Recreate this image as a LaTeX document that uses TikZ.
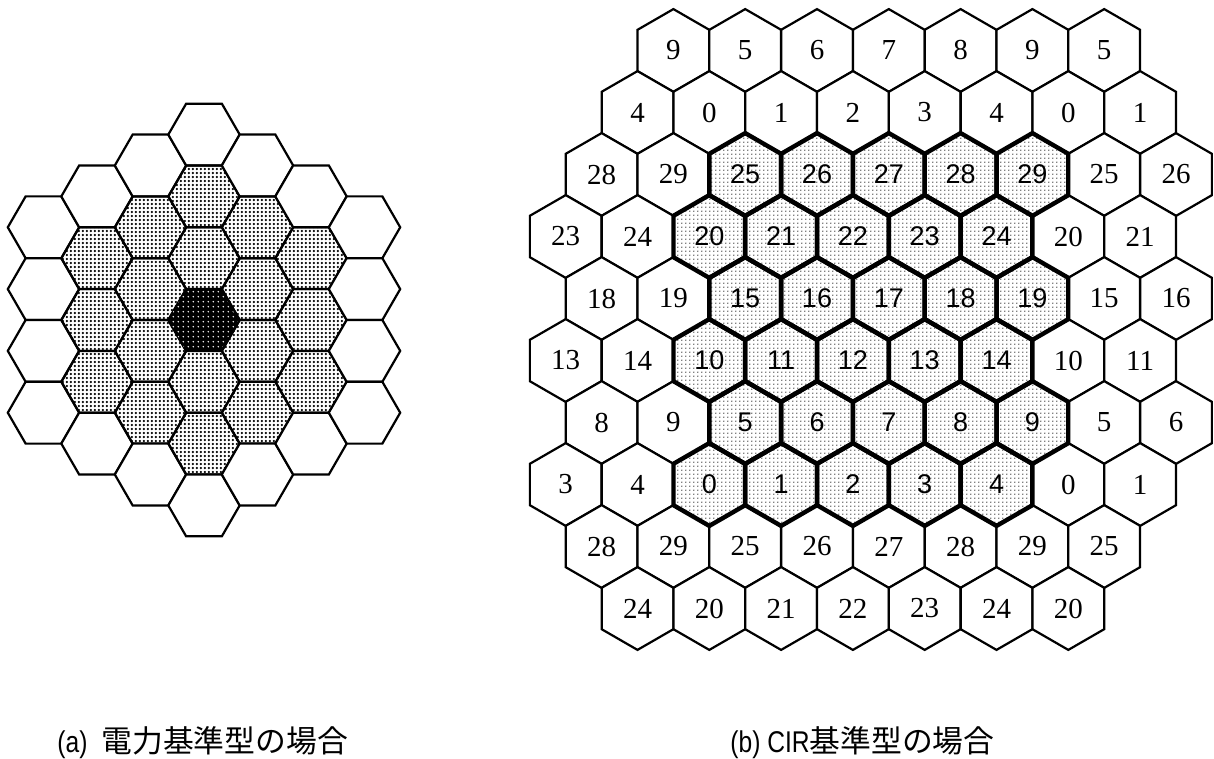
\documentclass[tikz,border=0pt]{standalone}
\usepackage{fontspec}
\setmainfont{Liberation Serif}
\newfontfamily\numsans{Liberation Sans}
\newfontfamily\capsans[FakeStretch=0.82]{Liberation Sans}
\newfontfamily\cjk{Noto Sans CJK JP}
\usetikzlibrary{shapes.geometric,patterns.meta}

\tikzdeclarepattern{
  name=dotsA,
  type=uncolored,
  bounding box={(0pt,0pt) and (2.2pt,2.2pt)},
  tile size={(2.2pt,2.2pt)},
  code={\fill (1.1pt,1.1pt) circle [radius=0.7pt];}
}
\tikzdeclarepattern{
  name=dotsB,
  type=uncolored,
  bounding box={(0pt,0pt) and (1.9pt,1.9pt)},
  tile size={(1.9pt,1.9pt)},
  code={\fill (0.95pt,0.95pt) circle [radius=0.32pt];}
}
\tikzdeclarepattern{
  name=dotsC,
  type=uncolored,
  bounding box={(0pt,0pt) and (2.6pt,2.6pt)},
  tile size={(2.6pt,2.6pt)},
  code={\fill (1.3pt,1.3pt) circle [radius=0.45pt];}
}

\tikzset{
  hexa/.style={regular polygon, regular polygon sides=6, minimum size=35.7pt,
    inner sep=0pt, draw=black, line width=1.1pt, line join=miter},
  awhite/.style={hexa, fill=white},
  ashade/.style={hexa, pattern=dotsA, pattern color=black},
  acenter/.style={hexa, fill=black, postaction={pattern=dotsC, pattern color=white}},
  hexb/.style={regular polygon, regular polygon sides=6, shape border rotate=30,
    minimum size=41.4pt, inner sep=0pt, draw=black, line join=miter},
  bwhite/.style={hexb, fill=white, line width=1.1pt, font=\fontsize{14.5}{16}\selectfont},
  bshade/.style={hexb, line width=2.2pt, pattern=dotsB, pattern color=black,
    font=\numsans\fontsize{13.5}{15}\selectfont},
  caption/.style={anchor=base west, inner sep=0pt},
}

\begin{document}
\begin{tikzpicture}[x=0.5pt,y=-0.5pt]
\useasboundingbox (0,0) rectangle (1214,759);

% ---------- (a) ----------
\foreach \q in {-3,...,3}{
  \foreach \r in {-3,...,3}{
    \pgfmathtruncatemacro\d{max(abs(\q),abs(\r),abs(\q+\r))}
    \pgfmathtruncatemacro\qq{\q+3}
    \pgfmathtruncatemacro\rr{\r+3}
    \ifnum\d<4
      \pgfmathsetmacro\ax{204+53.5*\q}
      \pgfmathsetmacro\ay{320+61.8*(\r+\q/2)}
      \ifnum\d=0
        \node[acenter] (a\qq\rr) at (\ax,\ay) {};
      \else\ifnum\d=3
        \node[awhite] (a\qq\rr) at (\ax,\ay) {};
      \else
        \node[ashade] (a\qq\rr) at (\ax,\ay) {};
      \fi\fi
    \fi
  }
}

% ---------- (b) white cells ----------
\foreach \r/\b/\kmin/\kmax in {1/5/1/7, 2/0/1/8, 3/25/0/8, 4/20/0/8, 5/15/0/8,
                               6/10/0/8, 7/5/0/8, 8/0/0/8, 9/25/0/7, 10/20/1/7}{
  \foreach \k in {\kmin,...,\kmax}{
    \pgfmathtruncatemacro\lab{\b+mod(\k+3,5)}
    \pgfmathsetmacro\bx{(isodd(\r) ? 601.6 : 565.7) + 71.8*\k}
    \pgfmathsetmacro\by{50.5+62*(\r-1)}
    \pgfmathtruncatemacro\inner{(\r>2)&&(\r<9)&&(\k>1)&&(\k<7)}
    \ifnum\inner=0
      \node[bwhite] (b\r-\k) at (\bx,\by) {\lab};
    \fi
  }
}
% ---------- (b) shaded cells ----------
\foreach \r/\b in {3/25, 4/20, 5/15, 6/10, 7/5, 8/0}{
  \foreach \k in {2,...,6}{
    \pgfmathtruncatemacro\lab{\b+mod(\k+3,5)}
    \pgfmathsetmacro\bx{(isodd(\r) ? 601.6 : 565.7) + 71.8*\k}
    \pgfmathsetmacro\by{50.5+62*(\r-1)}
    \node[bshade] (b\r-\k) at (\bx,\by) {\lab};
  }
}

% ---------- captions ----------
\node[caption] (capa) at (57,752)
  {\capsans\fontsize{15}{17}\selectfont (a)\hspace{7pt}\cjk\fontsize{15.4}{18}\selectfont 電力基準型の場合};
\node[caption] (capb) at (730,752)
  {\capsans\fontsize{15}{17}\selectfont (b) CIR\cjk\fontsize{15.4}{18}\selectfont 基準型の場合};
\end{tikzpicture}
\end{document}
